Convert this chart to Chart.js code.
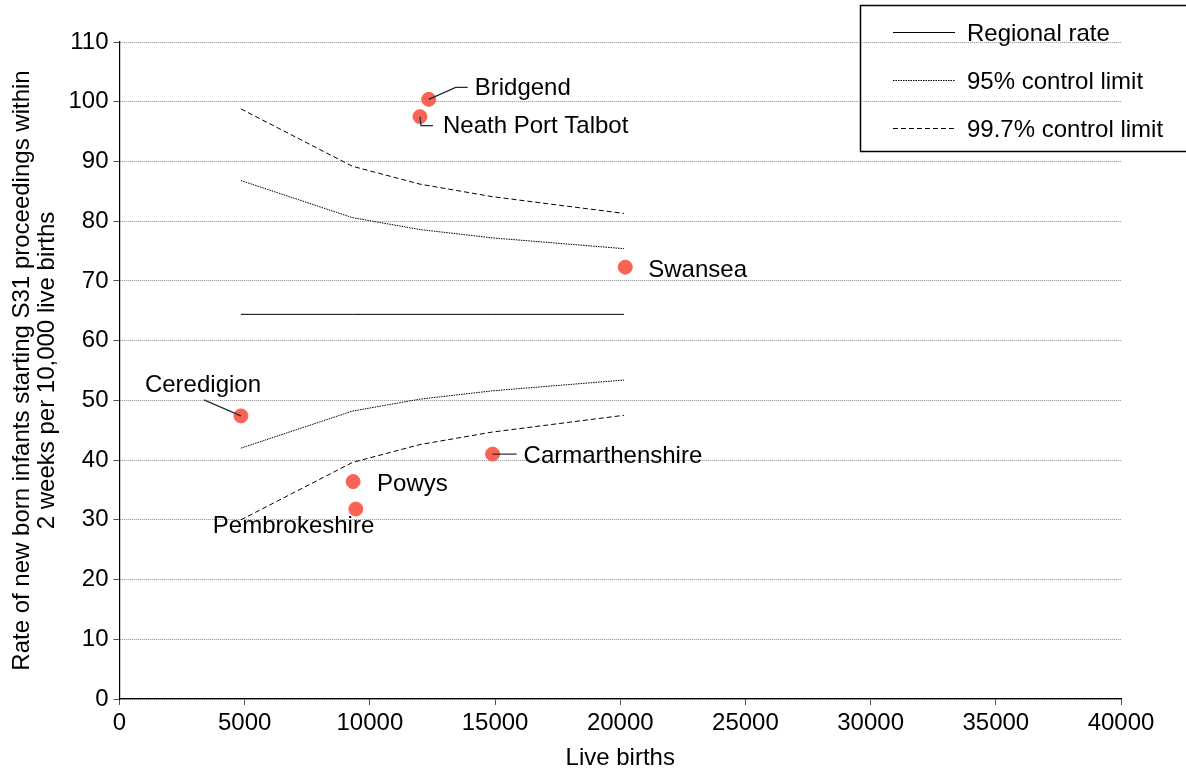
<!DOCTYPE html>
<html>
<head>
<meta charset="utf-8">
<script src="https://cdn.jsdelivr.net/npm/chart.js@4.4.1/dist/chart.umd.min.js"></script>
<style>
  html, body { margin: 0; padding: 0; background: #fff; }
  #wrap { width: 1186px; height: 769px; position: relative; }
</style>
</head>
<body>
<div id="wrap"><canvas id="myChart"></canvas></div>
<script>
// local authorities (points)
const authorities = ["Ceredigion", "Powys", "Pembrokeshire", "Neath Port Talbot", "Bridgend", "Carmarthenshire", "Swansea"];
const liveBirths = [4850, 9330, 9440, 12000, 12350, 14900, 20200];
const rates = [47.4, 36.4, 31.8, 97.5, 100.4, 41.0, 72.3];

// funnel lines
const limitBirths = [4850, 9300, 12000, 14900, 20150];
const regionalRate = [64.4, 64.4, 64.4, 64.4, 64.4];
const upper95 = [86.8, 80.6, 78.6, 77.2, 75.4];
const lower95 = [42.0, 48.2, 50.2, 51.6, 53.4];
const upper997 = [98.8, 89.2, 86.2, 84.1, 81.3];
const lower997 = [30.0, 39.6, 42.6, 44.7, 47.5];

const xTicks = [0, 5000, 10000, 15000, 20000, 25000, 30000, 35000, 40000];
const yTicks = [0, 10, 20, 30, 40, 50, 60, 70, 80, 90, 100, 110];

const FONT = "'Liberation Sans', Arial, sans-serif";

const toPts = (xs, ys) => xs.map((x, i) => ({ x: x, y: ys[i] }));

const lineDs = (label, ys, dash, inLegend) => ({
  type: 'line',
  label: label,
  data: toPts(limitBirths, ys),
  borderColor: '#000',
  borderWidth: 1,
  borderDash: dash,
  pointRadius: 0,
  fill: false,
  tension: 0,
  inLegend: inLegend
});

// label placement: [dx, dy, leader points]
const labelPos = {
  "Bridgend": [46, -11, [[27, -12], [39, -12]]],
  "Neath Port Talbot": [23, 10, [[1, 9], [13, 9]]],
  "Swansea": [23, 3, null],
  "Ceredigion": [-96, -31, [[-37, -16]]],
  "Carmarthenshire": [31, 2, [[24, 0]]],
  "Powys": [24, 3, null],
  "Pembrokeshire": [-143, 17, null]
};

const pointLabels = {
  id: 'pointLabels',
  afterDatasetsDraw(chart) {
    const ctx = chart.ctx;
    const meta = chart.getDatasetMeta(0);
    ctx.save();
    ctx.font = '24px ' + FONT;
    ctx.fillStyle = '#000';
    ctx.textBaseline = 'middle';
    ctx.textAlign = 'left';
    meta.data.forEach((pt, i) => {
      const p = labelPos[authorities[i]];
      if (p[2]) {
        ctx.beginPath();
        ctx.strokeStyle = '#1a2a3a';
        ctx.lineWidth = 1.2;
        ctx.moveTo(pt.x, pt.y);
        p[2].forEach(q => ctx.lineTo(pt.x + q[0], pt.y + q[1]));
        ctx.stroke();
      }
      ctx.fillText(authorities[i], pt.x + p[0], pt.y + p[1]);
    });
    ctx.restore();
  }
};

const boxLegend = {
  id: 'boxLegend',
  afterDraw(chart) {
    const ctx = chart.ctx;
    ctx.save();
    ctx.strokeStyle = '#000';
    ctx.lineWidth = 1.5;
    ctx.strokeRect(860.5, 5.5, 340, 146);
    ctx.font = '24px ' + FONT;
    ctx.fillStyle = '#000';
    ctx.textBaseline = 'middle';
    const items = chart.data.datasets.filter(d => d.inLegend);
    items.forEach((d, i) => {
      const y = 32 + i * 48;
      ctx.beginPath();
      ctx.lineWidth = 1;
      ctx.setLineDash(d.borderDash || []);
      ctx.moveTo(893, y + 0.5);
      ctx.lineTo(955, y + 0.5);
      ctx.stroke();
      ctx.setLineDash([]);
      ctx.fillText(d.label, 967, y + 2);
    });
    ctx.restore();
  }
};

new Chart(document.getElementById('myChart'), {
  type: 'scatter',
  data: {
    datasets: [
      {
        label: 'Local authorities',
        data: toPts(liveBirths, rates),
        backgroundColor: '#f86353',
        borderColor: '#f86353',
        pointRadius: 7,
        pointHoverRadius: 7,
        inLegend: false
      },
      lineDs('Regional rate', regionalRate, [], true),
      lineDs('95% control limit', upper95, [1.5, 1], true),
      lineDs('95% control limit', lower95, [1.5, 1], false),
      lineDs('99.7% control limit', upper997, [5, 3], true),
      lineDs('99.7% control limit', lower997, [5, 3], false)
    ]
  },
  options: {
    responsive: true,
    maintainAspectRatio: false,
    animation: false,
    layout: { padding: { top: 42, right: 65, left: 0, bottom: 0 } },
    plugins: {
      legend: { display: false },
      tooltip: { enabled: false }
    },
    scales: {
      x: {
        type: 'linear',
        min: 0,
        max: 40000,
        afterBuildTicks: (scale) => { scale.ticks = xTicks.map(v => ({ value: v })); },
        afterFit: (scale) => { scale.height = 70; },
        ticks: { color: '#000', font: { family: FONT, size: 24 }, padding: 4, maxRotation: 0, callback: (v) => String(v) },
        grid: { drawOnChartArea: false, drawTicks: true, tickLength: 6, tickColor: '#555', tickWidth: 1 },
        border: { display: true, color: '#000', width: 1.2 },
        title: { display: true, text: 'Live births', color: '#000', font: { family: FONT, size: 24 }, padding: { top: 0, bottom: -4 } }
      },
      y: {
        type: 'linear',
        min: 0,
        max: 110,
        afterBuildTicks: (scale) => { scale.ticks = yTicks.map(v => ({ value: v })); },
        afterFit: (scale) => { scale.width = 119.5; },
        ticks: { color: '#000', font: { family: FONT, size: 24 }, padding: 5, callback: (v) => String(v) },
        grid: { color: '#8c8c8c', lineWidth: 1, tickLength: 6, tickColor: '#555', tickBorderDash: [] },
        border: { display: true, color: '#000', width: 1.2, dash: [1, 1] },
        title: {
          display: true,
          text: ['Rate of new born infants starting S31 proceedings within', '2 weeks per 10,000 live births'],
          color: '#000',
          font: { family: FONT, size: 24, lineHeight: 1.05 },
          padding: { top: 10, bottom: 0 }
        }
      }
    }
  },
  plugins: [pointLabels, boxLegend]
});
</script>
</body>
</html>
